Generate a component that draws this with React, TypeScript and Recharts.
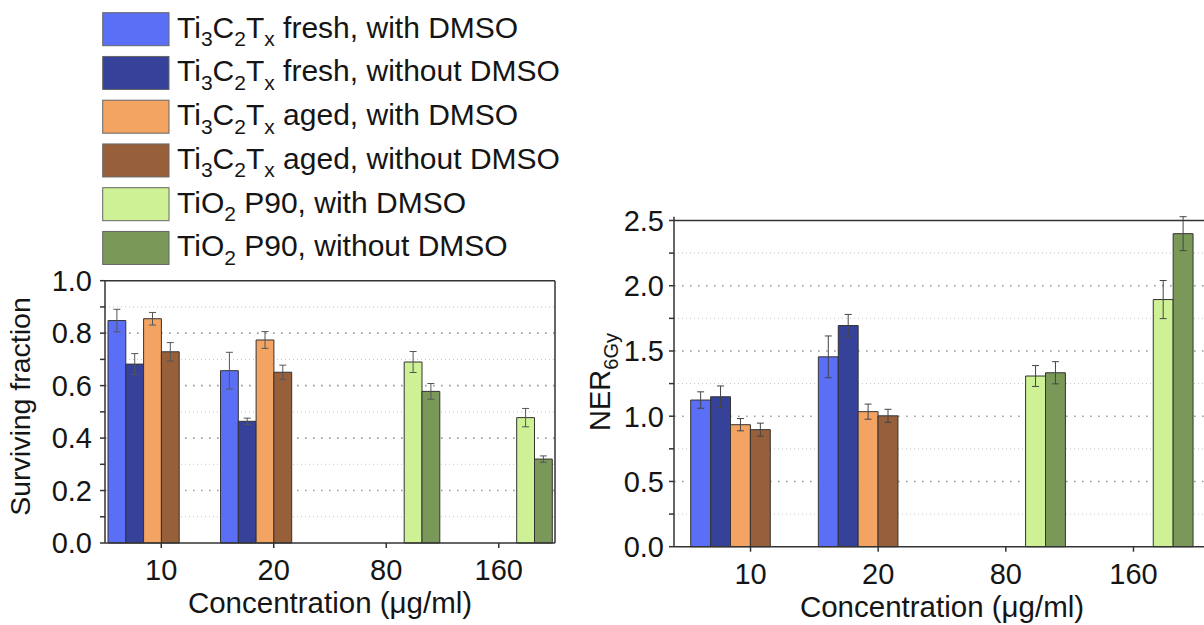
import { BarChart, Bar, XAxis, YAxis, CartesianGrid, ErrorBar, ReferenceLine, Legend, Label } from "recharts";

const CONCENTRATIONS = ["10", "20", "80", "160"];

const SERIES_NAMES = [
  "Ti3C2Tx fresh, with DMSO",
  "Ti3C2Tx fresh, without DMSO",
  "Ti3C2Tx aged, with DMSO",
  "Ti3C2Tx aged, without DMSO",
  "TiO2 P90, with DMSO",
  "TiO2 P90, without DMSO",
];
const SERIES_COLORS = ["#5b6ff6", "#36429a", "#f3a462", "#98603a", "#cdf194", "#7a9958"];

// surviving fraction (left panel)
const SF_FRESH_DMSO = [0.848, 0.657, null, null];
const SF_FRESH_NO = [0.682, 0.464, null, null];
const SF_AGED_DMSO = [0.855, 0.774, null, null];
const SF_AGED_NO = [0.729, 0.651, null, null];
const SF_TIO2_DMSO = [null, null, 0.69, 0.478];
const SF_TIO2_NO = [null, null, 0.578, 0.32];

const SF_ERR_FRESH_DMSO = [0.043, 0.07, null, null];
const SF_ERR_FRESH_NO = [0.04, 0.012, null, null];
const SF_ERR_AGED_DMSO = [0.024, 0.032, null, null];
const SF_ERR_AGED_NO = [0.035, 0.027, null, null];
const SF_ERR_TIO2_DMSO = [null, null, 0.04, 0.035];
const SF_ERR_TIO2_NO = [null, null, 0.03, 0.012];

// NER at 6 Gy (right panel)
const NER_FRESH_DMSO = [1.124, 1.455, null, null];
const NER_FRESH_NO = [1.149, 1.695, null, null];
const NER_AGED_DMSO = [0.935, 1.035, null, null];
const NER_AGED_NO = [0.897, 1.003, null, null];
const NER_TIO2_DMSO = [null, null, 1.308, 1.894];
const NER_TIO2_NO = [null, null, 1.333, 2.399];

const NER_ERR_FRESH_DMSO = [0.063, 0.16, null, null];
const NER_ERR_FRESH_NO = [0.083, 0.085, null, null];
const NER_ERR_AGED_DMSO = [0.047, 0.058, null, null];
const NER_ERR_AGED_NO = [0.05, 0.05, null, null];
const NER_ERR_TIO2_DMSO = [null, null, 0.08, 0.146];
const NER_ERR_TIO2_NO = [null, null, 0.085, 0.13];

const SF_TICKS = [0, 0.1, 0.2, 0.3, 0.4, 0.5, 0.6, 0.7, 0.8, 0.9, 1.0];
const SF_MAJOR = [0.2, 0.4, 0.6, 0.8];
const SF_MINOR = [0.1, 0.3, 0.5, 0.7, 0.9];
const NER_TICKS = [0, 0.25, 0.5, 0.75, 1.0, 1.25, 1.5, 1.75, 2.0, 2.25, 2.5];
const NER_MAJOR = [0.5, 1.0, 1.5, 2.0];
const NER_MINOR = [0.25, 0.75, 1.25, 1.75, 2.25];

const FONT = '"Liberation Sans", Arial, Helvetica, sans-serif';
const INK = "#151515";

const buildRows = (values: (number | null)[][], errors: (number | null)[][]) =>
  CONCENTRATIONS.map((c, i) => {
    const row: any = { conc: c };
    values.forEach((v, s) => {
      row["v" + s] = v[i];
      row["e" + s] = errors[s][i];
    });
    return row;
  });

const sfData = buildRows(
  [SF_FRESH_DMSO, SF_FRESH_NO, SF_AGED_DMSO, SF_AGED_NO, SF_TIO2_DMSO, SF_TIO2_NO],
  [SF_ERR_FRESH_DMSO, SF_ERR_FRESH_NO, SF_ERR_AGED_DMSO, SF_ERR_AGED_NO, SF_ERR_TIO2_DMSO, SF_ERR_TIO2_NO]
);
const nerData = buildRows(
  [NER_FRESH_DMSO, NER_FRESH_NO, NER_AGED_DMSO, NER_AGED_NO, NER_TIO2_DMSO, NER_TIO2_NO],
  [NER_ERR_FRESH_DMSO, NER_ERR_FRESH_NO, NER_ERR_AGED_DMSO, NER_ERR_AGED_NO, NER_ERR_TIO2_DMSO, NER_ERR_TIO2_NO]
);

// split "Ti3C2Tx" / "TiO2" into normal + subscript pieces
function chem(name: string, subSize: number, shift: number) {
  const parts: any[] = [];
  const re = /(Ti|C|T|O)([0-9x])(?![0-9])/g;
  let last = 0;
  let m: RegExpExecArray | null;
  let down = false;
  let k = 0;
  while ((m = re.exec(name))) {
    const before = name.slice(last, m.index) + m[1];
    parts.push(<tspan key={k++} dy={down ? -shift : 0}>{before}</tspan>);
    parts.push(<tspan key={k++} dy={shift} fontSize={subSize}>{m[2]}</tspan>);
    down = true;
    last = m.index + m[0].length;
  }
  parts.push(<tspan key={k++} dy={down ? -shift : 0}>{name.slice(last)}</tspan>);
  return parts;
}

// legend keeps the series order (recharts would sort it)
function LegendBox() {
  return (
    <svg width={600} height={280} style={{ display: "block" }}>
      {SERIES_NAMES.map((name, i) => {
        const y = 12.7 + i * 43.75;
        return (
          <g key={i}>
            <rect x={102.7} y={y} width={66.3} height={33} fill={SERIES_COLORS[i]} stroke="#666" strokeWidth={1} />
            <text x={177} y={y + 25} fontSize={30} fill={INK} fontFamily={FONT}>
              {chem(name, 21, 8.5)}
            </text>
          </g>
        );
      })}
    </svg>
  );
}

const tickStyle = { fontSize: 29, fill: INK, fontFamily: FONT };

export default function App() {
  return (
    <div style={{ position: "absolute", left: 0, top: 0, width: 1204, height: 625, overflow: "hidden", background: "#fff", fontFamily: FONT }}>
      {/* left panel: surviving fraction */}
      <div style={{ position: "absolute", left: 0, top: 0 }}>
        <BarChart width={600} height={625} data={sfData} margin={{ top: 280.7, right: 44, bottom: 0, left: 0 }} barGap={0} barSize={17.8}>
          <CartesianGrid horizontal vertical={false} horizontalValues={SF_MINOR} stroke="#c4c4c4" strokeDasharray="1 3" />
          <CartesianGrid horizontal vertical={false} horizontalValues={SF_MAJOR} stroke="#9a9a9a" strokeWidth={1.6} strokeDasharray="1.6 6.4" />
          <XAxis dataKey="conc" height={82} tickSize={5} tickMargin={11} stroke="#333" strokeWidth={1.5} tick={tickStyle}
            label={<Label content={() => (
              <text x={330} y={613} textAnchor="middle" fontSize={29.5} fill={INK} fontFamily={FONT}>Concentration (μg/ml)</text>
            )} />} />
          <YAxis width={105} domain={[0, 1]} ticks={SF_TICKS} interval={0} tickSize={5} tickMargin={8} stroke="#333" strokeWidth={1.5}
            tick={tickStyle} tickFormatter={(v: number) => (Math.round(v * 10) % 2 === 0 ? v.toFixed(1) : "")}
            label={<Label content={() => (
              <text x={30} y={406.5} transform="rotate(-90 30 406.5)" textAnchor="middle" fontSize={28.5} fill={INK} fontFamily={FONT}>Surviving fraction</text>
            )} />} />
          <YAxis yAxisId="frame" orientation="right" domain={[0, 1]} width={1} tick={false} tickLine={false} stroke="#333" strokeWidth={1.5} />
          <ReferenceLine y={1} stroke="#333" strokeWidth={1.5} />
          {SERIES_NAMES.map((name, s) => (
            <Bar key={s} dataKey={"v" + s} name={name} fill={SERIES_COLORS[s]} stroke="#333" strokeWidth={1} isAnimationActive={false}>
              <ErrorBar dataKey={"e" + s} width={3.5} stroke="#555" strokeWidth={1} />
            </Bar>
          ))}
          <Legend layout="vertical" verticalAlign="middle" align="center" content={LegendBox}
            wrapperStyle={{ top: 0, left: 0, width: 600, height: 280 }} />
        </BarChart>
      </div>

      {/* right panel: NER 6Gy */}
      <div style={{ position: "absolute", left: 560, top: 0 }}>
        <BarChart width={670} height={625} data={nerData} margin={{ top: 216.7, right: 20, bottom: 0, left: 0 }} barGap={0} barSize={19.9}>
          <CartesianGrid horizontal vertical={false} horizontalValues={NER_MINOR} stroke="#c4c4c4" strokeDasharray="1 3" />
          <CartesianGrid horizontal vertical={false} horizontalValues={NER_MAJOR} stroke="#9a9a9a" strokeWidth={1.6} strokeDasharray="1.6 6.4" />
          <XAxis dataKey="conc" height={78.3} padding={{ left: 12.7, right: 12.7 }} tickSize={5} tickMargin={12} stroke="#333" strokeWidth={1.5} tick={tickStyle}
            label={<Label content={() => (
              <text x={382} y={617} textAnchor="middle" fontSize={29.5} fill={INK} fontFamily={FONT}>Concentration (μg/ml)</text>
            )} />} />
          <YAxis width={114} domain={[0, 2.5]} ticks={NER_TICKS} interval={0} tickSize={5} tickMargin={5} stroke="#333" strokeWidth={1.5}
            tick={tickStyle} tickFormatter={(v: number) => (Math.round(v * 4) % 2 === 0 ? v.toFixed(1) : "")}
            label={<Label content={() => (
              <text x={50} y={382} transform="rotate(-90 50 382)" textAnchor="middle" fontSize={29} fill={INK} fontFamily={FONT}>
                NER<tspan dy={8} fontSize={20}>6Gy</tspan>
              </text>
            )} />} />
          <ReferenceLine y={2.5} stroke="#333" strokeWidth={1.5} />
          {SERIES_NAMES.map((name, s) => (
            <Bar key={s} dataKey={"v" + s} name={name} fill={SERIES_COLORS[s]} stroke="#333" strokeWidth={1} isAnimationActive={false}>
              <ErrorBar dataKey={"e" + s} width={3.5} stroke="#444" strokeWidth={1} />
            </Bar>
          ))}
        </BarChart>
      </div>
    </div>
  );
}
